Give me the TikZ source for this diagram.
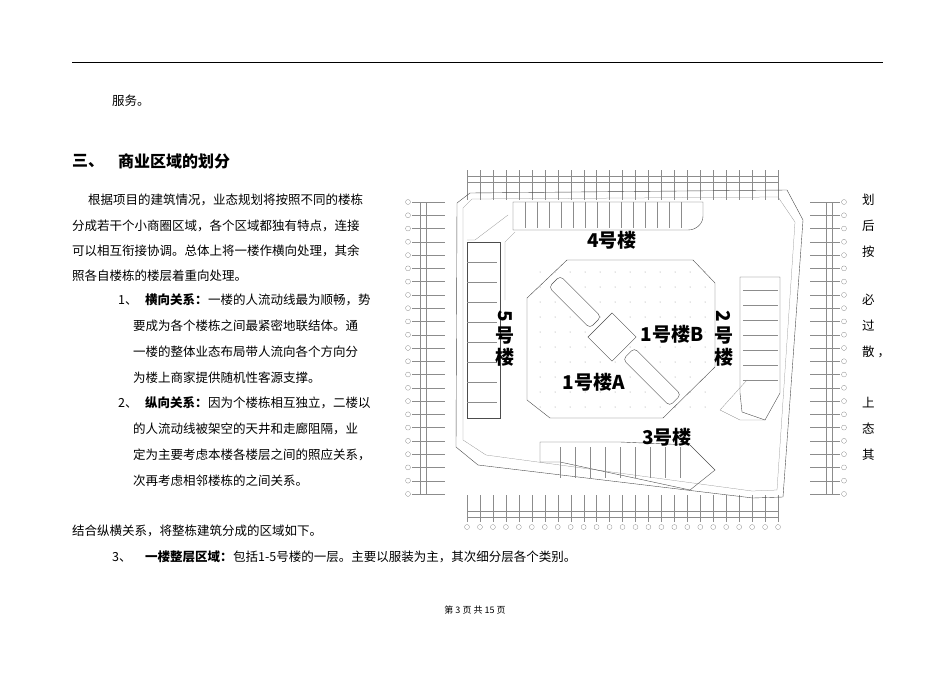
\documentclass[tikz,border=0pt]{standalone}
\usepackage{fontspec}
\setmainfont{Noto Sans CJK SC}
\newfontfamily\cjkb{Noto Sans CJK SC Black}
\begin{document}
\begin{tikzpicture}[x=1pt,y=-1pt,
  txt/.style={anchor=west,inner sep=0pt,font=\fontsize{12.5}{14}\selectfont},
  bd/.style={anchor=west,inner sep=0pt,font=\fontsize{12.5}{14}\selectfont\bfseries},
  big/.style={inner sep=0pt,font=\cjkb\fontsize{19}{19}\selectfont},
  pl/.style={line width=0.4pt,draw=black!70},
  thin/.style={line width=0.25pt,draw=black!45},
  bub/.style={circle,draw=black!50,line width=0.25pt,minimum size=5pt,inner sep=0pt}]
\useasboundingbox (0,0) rectangle (950,672);
\draw[line width=0.6pt] (72,62) -- (883,62);
\node[txt] (t0) at (112,101) {服务。};
\node[anchor=west,inner sep=0pt,font=\fontsize{16}{18}\selectfont\bfseries] (h1) at (72,161) {三、};
\node[anchor=west,inner sep=0pt,font=\fontsize{16}{18}\selectfont\bfseries] (h2) at (118,161) {商业区域的划分};
\node[txt] (l1) at (88,200) {根据项目的建筑情况，业态规划将按照不同的楼栋};
\node[txt] (l2) at (72,226) {分成若干个小商圈区域，各个区域都独有特点，连接};
\node[txt] (l3) at (72,251) {可以相互衔接协调。总体上将一楼作横向处理，其余};
\node[txt] (l4) at (72,276) {照各自楼栋的楼层着重向处理。};
\node[txt] (n1) at (118,300) {1、};
\node[bd] (b1) at (145,300) {横向关系：};
\node[txt,anchor=west] (l5) at (b1.east) {一楼的人流动线最为顺畅，势};
\node[txt] (l6) at (133,326) {要成为各个楼栋之间最紧密地联结体。通};
\node[txt] (l7) at (133,352) {一楼的整体业态布局带人流向各个方向分};
\node[txt] (l8) at (133,378) {为楼上商家提供随机性客源支撑。};
\node[txt] (n2) at (118,403) {2、};
\node[bd] (b2) at (145,403) {纵向关系：};
\node[txt,anchor=west] (l9) at (b2.east) {因为个楼栋相互独立，二楼以};
\node[txt] (l10) at (133,429) {的人流动线被架空的天井和走廊阻隔，业};
\node[txt] (l11) at (133,455) {定为主要考虑本楼各楼层之间的照应关系，};
\node[txt] (l12) at (133,481) {次再考虑相邻楼栋的之间关系。};
\foreach \t/\y [count=\i] in {划/200,后/226,按/252,必/300,过/326,{散\ ，}/352,上/403,态/429,其/455}
  \node[txt] (r\i) at (862,\y) {\t};
\node[txt] (l13) at (72,531) {结合纵横关系，将整栋建筑分成的区域如下。};
\node[txt] (n3) at (112,557) {3、};
\node[bd] (b3) at (145,557) {一楼整层区域：};
\node[txt,anchor=west] (l14) at (b3.east) {包括1-5号楼的一层。主要以服装为主，其次细分层各个类别。};
\node[inner sep=0pt,font=\fontsize{9}{10}\selectfont] (ft) at (475,610) {第 3 页 共 15 页};
% ---- plan: grids
\foreach \i in {0,...,24}{
  \pgfmathsetmacro\xx{467+\i*12.96}
  \draw[thin] (\xx,170) -- (\xx,200);
  \draw[thin] (\xx,495) -- (\xx,522);
  \node[bub] (bb\i) at (\xx,527) {};}
\draw[thin] (467,176)--(778,176) (467,182)--(778,182) (467,517)--(778,517) (467,511)--(778,511);
\foreach \j in {0,...,22}{
  \pgfmathsetmacro\yy{202+\j*13.27}
  \draw[thin] (412,\yy) -- (445,\yy);
  \draw[thin] (810,\yy) -- (840,\yy);
  \node[bub] (lb\j) at (408,\yy) {};
  \node[bub] (rb\j) at (844,\yy) {};}
\draw[thin] (420,202)--(420,494) (426,202)--(426,494) (826,202)--(826,494) (832,202)--(832,494);
% boundary
\draw[pl] (457,203)--(470,193)--(787,190)--(803,220)--(783,497)--(753,498)--(478,465)--(456,447)--cycle;
\draw[thin] (463,208)--(472,199)--(778,197)--(795,222)--(777,490)--(752,491)--(486,455)--(463,440)--cycle;
% building 4
\draw[pl] (513,202)--(703,202)--(703,216) to[out=-90,in=0] (688,230)--(513,230)--cycle;
\foreach \x in {525,537,549,561,573,585,597,609,621,633,645,657,669,681} \draw[thin] (\x,202)--(\x,228);
\draw[thin] (508,215)--(475,240)--(467,240) (515,232)--(505,242)--(505,300);
% building 5
\draw[pl] (467,242)--(500,242)--(500,418)--(467,418)--cycle;
\foreach \y in {262,282,302,322,342,362,382,402} \draw[thin] (467,\y)--(497,\y);
% building 2
\draw[pl] (740,277)--(780,277)--(780,393)--(765,420)--(742,412)--(740,393)--cycle;
\foreach \y in {290,305,320,335,350,365,380} \draw[thin] (743,\y)--(778,\y);
\draw[thin] (747,380)--(720,410)--(740,420)--(765,420);
% building 3
\draw[pl] (540,442)--(620,442)--(690,445)--(715,470)--(690,490)--(560,462)--(540,462)--cycle;
\foreach \x in {560,575,590,605,620,635,650,665,680} \draw[thin] (\x,447)--(\x,478);
% building 1
\draw[pl] (567,260)--(693,260)--(715,283)--(715,367)--(663,418)--(550,418)--(527,400)--(527,298)--cycle;
\foreach \x in {540,555,570,585,600,615,630,645,660,675,690,705}
  \foreach \y in {272,287,302,317,332,347,362,377,392,407}
    \fill[black!45] (\x,\y) circle (0.5);
\node[draw=black!70,fill=white,rounded corners=4pt,minimum width=58pt,minimum height=16pt,rotate=-45] (v1) at (575,302) {};
\node[draw=black!70,fill=white,minimum width=34pt,minimum height=34pt,rotate=45] (v2) at (612,337) {};
\node[draw=black!70,fill=white,rounded corners=4pt,minimum width=66pt,minimum height=16pt,rotate=-45] (v3) at (652,377) {};
% labels
\node[big] (k4) at (612,240) {4号楼};
\node[big] (k1b) at (672,334) {1号楼B};
\node[big] (k1a) at (594,382) {1号楼A};
\node[big] (k3) at (667,437) {3号楼};
\node[big,rotate=-90] (k5a) at (505,316) {5};
\node[big] (k5b) at (505,336) {号};
\node[big] (k5c) at (505,357) {楼};
\node[big,rotate=-90] (k2a) at (724,316) {2};
\node[big] (k2b) at (724,336) {号};
\node[big] (k2c) at (724,357) {楼};
\end{tikzpicture}
\end{document}
